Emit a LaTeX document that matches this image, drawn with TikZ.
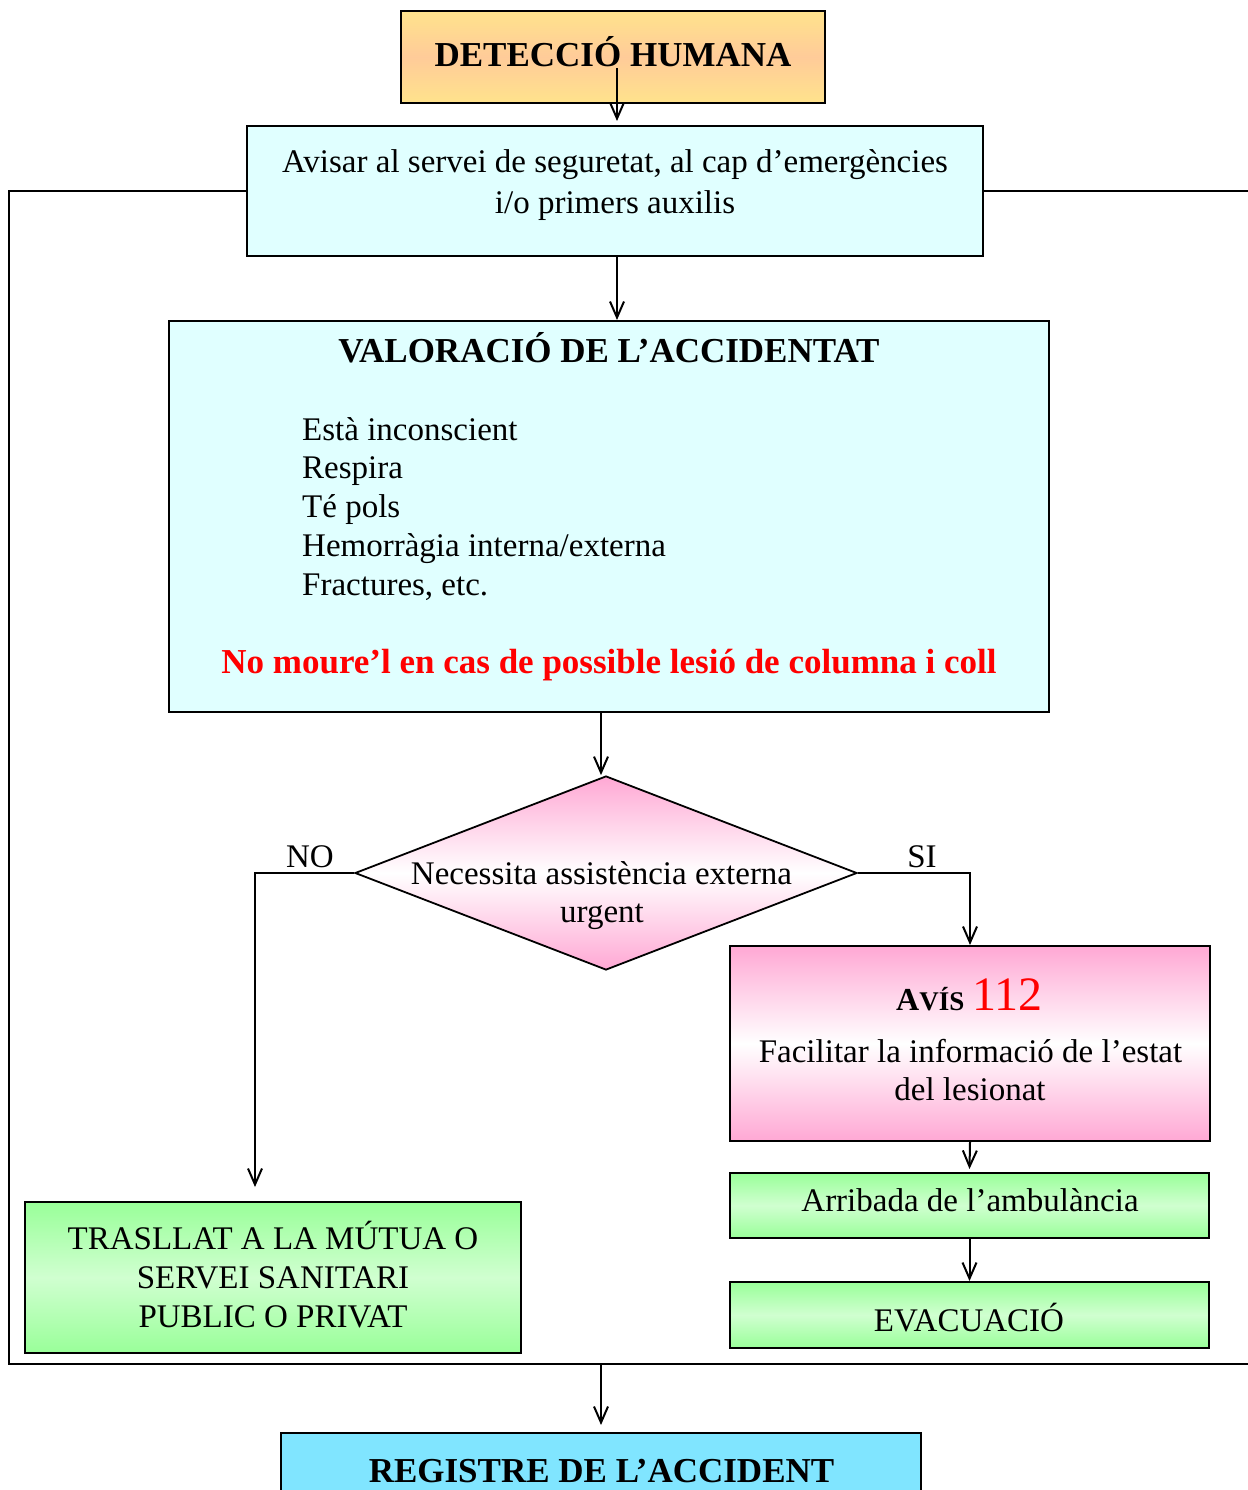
\documentclass[tikz,border=0pt]{standalone}
\usepackage{fontspec}
\setmainfont{Liberation Serif}
\usetikzlibrary{arrows.meta,shapes.geometric,calc}
\definecolor{cyanbox}{HTML}{E0FFFF}
\definecolor{orangeE}{HTML}{FFE38C}
\definecolor{orangeM}{HTML}{FFCB99}
\definecolor{pinkE}{HTML}{FFA8D4}
\definecolor{greenE}{HTML}{99FF99}
\definecolor{greenM}{HTML}{D0FFD0}
\definecolor{regblue}{HTML}{80E5FF}
\definecolor{redtxt}{HTML}{FF0000}
\begin{document}
\begin{tikzpicture}[x=1pt,y=-1pt,
  box/.style={draw=black,line width=2pt,inner sep=0pt,rectangle},
  cyanfill/.style={box,fill=cyanbox},
  orangefill/.style={box,top color=orangeE,bottom color=orangeE,middle color=orangeM},
  pinkfill/.style={top color=pinkE,bottom color=pinkE,middle color=white},
  greenfill/.style={box,top color=greenE,bottom color=greenE,middle color=greenM},
  txt/.style={anchor=base,inner sep=0pt,font=\fontsize{33}{39}\selectfont},
  btxt/.style={anchor=base,inner sep=0pt,font=\fontsize{35}{40}\selectfont\bfseries},
  rtxt/.style={anchor=base,inner sep=0pt,text=redtxt,font=\fontsize{35}{40}\selectfont\bfseries},
  conn/.style={line width=2pt,-{Straight Barb[length=16pt,width=14pt,line width=2pt]}},
  frameline/.style={line width=1.8pt}
]
\useasboundingbox (0,0) rectangle (1247,1490);

% boxes
\node[orangefill,minimum width=424pt,minimum height=92pt] (det) at (613,57) {};
\node[cyanfill,minimum width=736pt,minimum height=130pt] (avis) at (615,191) {};
\node[cyanfill,minimum width=880pt,minimum height=391pt] (val) at (609,516.5) {};
\node[diamond,draw=black,line width=1.8pt,pinkfill,minimum width=502pt,minimum height=194pt,inner sep=0pt] (dia) at (606,873) {};
\node[box,pinkfill,minimum width=480pt,minimum height=195pt] (a112) at (970,1043.5) {};
\node[greenfill,minimum width=479pt,minimum height=65pt] (arr) at (969.5,1205.5) {};
\node[greenfill,minimum width=479pt,minimum height=66pt] (evac) at (969.5,1315) {};
\node[greenfill,minimum width=496pt,minimum height=151pt] (tras) at (273,1277.5) {};
\node[box,fill=regblue,minimum width=640pt,minimum height=87pt] (reg) at (601,1476.5) {};

% texts
\node[btxt] (detT) at (613,67) {DETECCIÓ HUMANA};
\node[txt] (avisT1) at (615,173) {Avisar al servei de seguretat, al cap d’emergències};
\node[txt] (avisT2) at (615,213) {i/o primers auxilis};
\node[btxt] (valT) at (609,362) {VALORACIÓ DE L’ACCIDENTAT};
\node[txt,anchor=base west] (l1) at (302,440) {Està inconscient};
\node[txt,anchor=base west] (l2) at (302,478.5) {Respira};
\node[txt,anchor=base west] (l3) at (302,517) {Té pols};
\node[txt,anchor=base west] (l4) at (302,556.5) {Hemorràgia interna/externa};
\node[txt,anchor=base west] (l5) at (302,595) {Fractures, etc.};
\node[rtxt] (warn) at (609,673) {No moure’l en cas de possible lesió de columna i coll};
\node[txt] (diaT1) at (601.5,884) {Necessita assistència externa};
\node[txt] (diaT2) at (602,922) {urgent};
\node[txt] (noT) at (310,867) {NO};
\node[txt] (siT) at (922,867) {SI};
\node[txt] (a112T) at (969.5,1010) {{\bfseries\fontsize{32}{32}\selectfont A\fontsize{27}{27}\selectfont VÍS} {\fontsize{48}{48}\selectfont\color{redtxt}112}};
\node[txt] (a112T2) at (970.5,1062) {Facilitar la informació de l’estat};
\node[txt] (a112T3) at (970,1100) {del lesionat};
\node[txt] (arrT) at (970,1211) {Arribada de l’ambulància};
\node[txt] (evacT) at (969,1331) {EVACUACIÓ};
\node[txt] (trasT1) at (273,1249) {TRASLLAT A LA MÚTUA O};
\node[txt] (trasT2) at (273,1288) {SERVEI SANITARI};
\node[txt] (trasT3) at (273,1327) {PUBLIC O PRIVAT};
\node[btxt] (regT) at (601.5,1482) {REGISTRE DE L’ACCIDENT};

% frame
\coordinate (fbl) at (9,1364);
\coordinate (fbr) at (1262,1364);
\coordinate (ftr) at (1262,191);
\coordinate (fmid) at (601,1364);
\draw[frameline] (avis.west) -| (fbl) -- (fbr);
\draw[frameline] (avis.east) -- (ftr);

% connectors
\draw[conn] ($(det.south)+(4,-36)$) -- ($(avis.north)+(2,-4)$);
\draw[conn] ($(avis.south)+(2,0)$) -- ($(val.north)+(8,0)$);
\draw[conn] ($(val.south)+(-8,0)$) -- ($(dia.north)+(-5,0)$);
\draw[conn] (dia.east) -| (a112.north);
\coordinate (noend) at (255,1187);
\draw[conn] (dia.west) -| (noend);
\draw[conn] (a112.south) -- ($(arr.north)+(0,-3)$);
\draw[conn] (arr.south) -- (evac.north);
\draw[conn] (fmid) -- ($(reg.north)+(0,-7)$);
\end{tikzpicture}
\end{document}
